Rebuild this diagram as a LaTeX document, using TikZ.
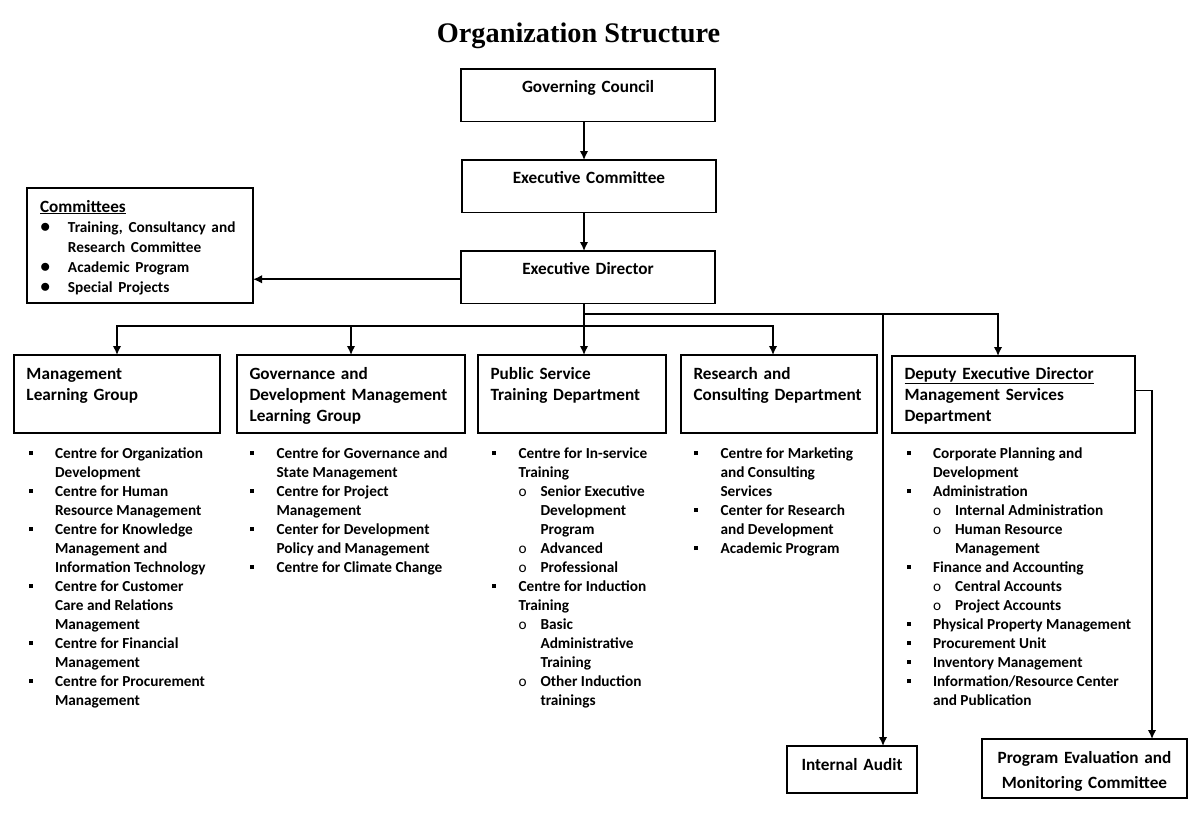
\documentclass[tikz,border=0pt]{standalone}
\usepackage{fontspec}
\setmainfont{Carlito}
\newfontfamily\titlefont{Liberation Serif}
\usetikzlibrary{positioning}
\usetikzlibrary{arrows.meta}

\newcommand{\sqb}{\rule[2.9pt]{4pt}{4pt}}
\newcommand{\rdb}{{\fontsize{20}{20}\selectfont$\bullet$}}
\newcommand{\subb}{\makebox[22pt][l]{\mdseries o}}
\newcommand{\subi}{\hspace*{22pt}}
\newcommand{\listfont}{\fontsize{15.3}{19}\selectfont\bfseries}
\newcommand{\headfont}{\fontsize{17.2}{21}\selectfont\bfseries}

\begin{document}
\begin{tikzpicture}[x=1pt, y=-1pt,
	every node/.style={inner sep=0pt, outer sep=0pt},
	box/.style={draw, line width=1.7pt, inner xsep=12pt, inner ysep=0pt, font=\headfont, anchor=north west},
	topbox/.style={box, align=center, text width=230pt, text height=23pt, text depth=29.5pt},
	deptbox/.style={box, inner xsep=12.5pt, align=left, text height=24pt, text depth=54pt},
	lst/.style={anchor=base west, font=\listfont},
	arr/.style={-{Latex[length=9pt,width=8.5pt]}, line width=1.6pt}]
				
				\fill[white] (0,0) rectangle (1200,819);
				\useasboundingbox (0,0) rectangle (1200,819);
				
				\node[font=\titlefont\fontsize{28.3}{34}\selectfont\bfseries, anchor=base] (title) at (578.5,42) {Organization Structure};
				
				% top of the chart
				\node[topbox] (GC) at (461,69) {Governing Council};
				\node[topbox] (EC) at (462,160) {Executive Committee};
				\node[topbox] (ED) at (461,251) {Executive Director};
				
				\node[box, inner xsep=13pt, text width=200pt, align=left, text height=24pt, text depth=91pt] (Com) at (27,188)
				{\fontsize{15.3}{20}\selectfont\bfseries
					\begin{tabular}[t]{@{}p{28pt}@{}l@{}}
						\multicolumn{2}{@{}l@{}}{\headfont\underline{Committees}}\\
						\rdb & Training, Consultancy and\\
						& Research Committee\\
						\rdb & Academic Program\\
						\rdb & Special Projects
				\end{tabular}};
				
				% departments
				\node[deptbox, text width=181pt] (ML) at (14,355) {Management\\Learning Group};
				\node[deptbox, text width=203pt] (GD) at (237,355) {Governance and\\Development Management\\Learning Group};
				\node[deptbox, text width=163pt] (PST) at (478,355) {Public Service\\Training Department};
				\node[deptbox, text width=171pt] (RC) at (681,355) {Research and\\Consulting Department};
				\node[deptbox, text width=218pt, text height=23pt] (DED) at (892,356) {\underline{Deputy Executive Director}\\Management Services\\Department};
				
				\node[box, align=center, text width=106pt, text height=24.5pt, text depth=22.5pt] (IA) at (787,746) {Internal Audit};
				\node[box, align=center, text width=181pt, font=\fontsize{17.2}{25}\selectfont\bfseries, text height=24pt, text depth=35pt] (PEMC) at (982,739) {Program Evaluation and\\Monitoring Committee};
				
				% lists under the departments
				\node[lst] (MLlist) at (28.5,458) {\begin{tabular}[t]{@{}p{26.5pt}@{}l@{}}
						\sqb & Centre for Organization\\
						& Development\\
						\sqb & Centre for Human\\
						& Resource Management\\
						\sqb & Centre for Knowledge\\
						& Management and\\
						& Information Technology\\
						\sqb & Centre for Customer\\
						& Care and Relations\\
						& Management\\
						\sqb & Centre for Financial\\
						& Management\\
						\sqb & Centre for Procurement\\
						& Management
				\end{tabular}};
				
				\node[lst] (GDlist) at (250,458) {\begin{tabular}[t]{@{}p{26.5pt}@{}l@{}}
						\sqb & Centre for Governance and\\
						& State Management\\
						\sqb & Centre for Project\\
						& Management\\
						\sqb & Center for Development\\
						& Policy and Management\\
						\sqb & Centre for Climate Change
				\end{tabular}};
				
				\node[lst] (PSTlist) at (492,458) {\begin{tabular}[t]{@{}p{26.5pt}@{}l@{}}
						\sqb & Centre for In-service\\
						& Training\\
						& \subb Senior Executive\\
						& \subi Development\\
						& \subi Program\\
						& \subb Advanced\\
						& \subb Professional\\
						\sqb & Centre for Induction\\
						& Training\\
						& \subb Basic\\
						& \subi Administrative\\
						& \subi Training\\
						& \subb Other Induction\\
						& \subi trainings
				\end{tabular}};
				
				\node[lst] (RClist) at (694,458) {\begin{tabular}[t]{@{}p{26.5pt}@{}l@{}}
						\sqb & Centre for Marketing\\
						& and Consulting\\
						& Services\\
						\sqb & Center for Research\\
						& and Development\\
						\sqb & Academic Program
				\end{tabular}};
				
				\node[lst] (DEDlist) at (906.5,458) {\begin{tabular}[t]{@{}p{26.5pt}@{}l@{}}
						\sqb & Corporate Planning and\\
						& Development\\
						\sqb & Administration\\
						& \subb Internal Administration\\
						& \subb Human Resource\\
						& \subi Management\\
						\sqb & Finance and Accounting\\
						& \subb Central Accounts\\
						& \subb Project Accounts\\
						\sqb & Physical Property Management\\
						\sqb & Procurement Unit\\
						\sqb & Inventory Management\\
						\sqb & Information/Resource Center\\
						& and Publication
				\end{tabular}};
				
				% connectors
				\coordinate (trunk) at (584,0);
				\coordinate (lowbus) at (584,326);
				\coordinate (highbus) at (584,314);
				\coordinate (auditx) at (883,0);
				\coordinate (dedx) at (998,0);
				\coordinate (pemx) at (1152,0);
				
				\draw[arr] (GC.south -| trunk) -- (EC.north -| trunk);
				\draw[arr] (EC.south -| trunk) -- (ED.north -| trunk);
				\draw[arr] ([yshift=-2pt]ED.west) -- ([yshift=-2pt]ED.west -| Com.east);
				\draw[arr] (ED.south -| trunk) -- (PST.north -| trunk);
				\draw[arr] (lowbus) -| (ML.north);
				\draw[arr] (lowbus) -| (GD.north);
				\draw[arr] (lowbus) -| ([xshift=-6pt]RC.north);
				\draw[arr] (highbus) -| (IA.north -| auditx);
				\draw[arr] (highbus) -| (DED.north -| dedx);
				\draw[arr] ([yshift=4pt]DED.east) -| (PEMC.north -| pemx);
				
			\end{tikzpicture}
\end{document}
